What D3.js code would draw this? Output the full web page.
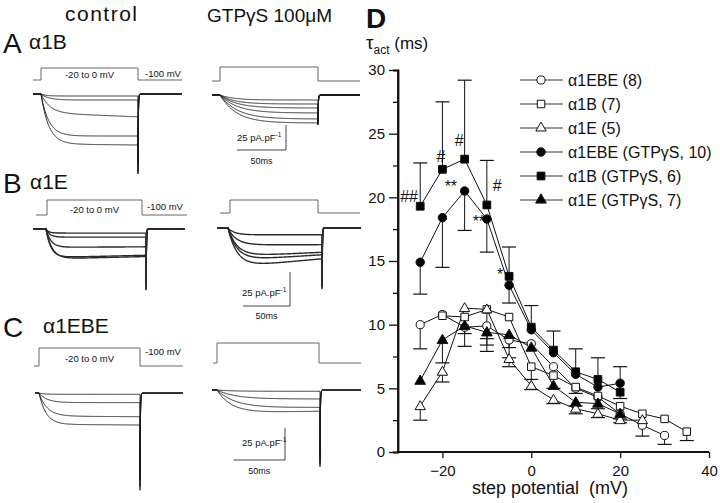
<!DOCTYPE html>
<html><head><meta charset="utf-8">
<script src="https://cdn.jsdelivr.net/npm/d3@7"></script>
<style>
body{margin:0;background:#fff}
svg{display:block}
text{font-family:"Liberation Sans",Arial,Helvetica,sans-serif;fill:#111}
</style>
</head><body>
<svg id="c" width="720" height="503"></svg>
<script>
// ================= Panel D data =================
const voltages = [-25,-20,-15,-10,-5,0,5,10,15,20,25,30,35];
// open symbols (control)
const tauEBE   = [10.0,10.8,9.8,9.9,8.8,8.5,6.7,5.0,4.3,3.0,2.1,1.3,null];
const errEBE   = [8.1,null,8.3,8.4,7.4,null,null,null,null,null,1.25,0.6,null];
const tauB     = [null,10.7,10.6,11.2,10.6,6.7,6.0,5.1,4.4,3.6,3.0,2.6,1.6];
const errB     = [null,null,null,null,null,5.7,null,4.6,null,null,null,null,0.9];
const tauE     = [3.6,6.3,11.3,11.2,7.3,5.2,4.1,3.4,3.0,2.5,2.5,null,null];
const errE     = [2.5,5.5,null,7.9,6.7,4.9,3.8,3.0,2.7,2.3,null,null,null];
// filled symbols (GTPgS)
const tauEBEg  = [14.9,18.4,20.5,18.3,13.1,9.6,7.8,6.1,5.1,5.4,null,null,null];
const errEBEg  = [12.4,14.5,17.4,15.7,11.7,null,null,null,null,6.7,null,null,null];
const tauBg    = [19.3,22.2,23.0,19.4,13.8,9.8,8.0,6.3,5.7,4.7,null,null,null];
const errBg    = [22.7,27.5,29.2,22.9,16.1,11.5,9.5,8.1,7.4,4.2,null,null,null];
const tauEg    = [5.6,8.8,9.9,9.4,9.2,8.2,5.2,3.9,3.8,3.0,null,null,null];
const errEg    = [null,7.0,9.3,8.9,8.2,null,5.0,3.6,3.4,2.6,null,null,null];
const legendLabels = ["α1EBE (8)","α1B (7)","α1E (5)","α1EBE (GTPγS, 10)","α1B (GTPγS, 6)","α1E (GTPγS, 7)"];
const yTicks = [0,5,10,15,20,25,30];
const yMinorTicks = [2.5,7.5,12.5,17.5,22.5,27.5];
const xTicks = [-20,0,20,40];
// significance marks
const sigVolt = [-25,-20,-15,-10,-15,-15,-5];
const sigTau  = [19.6,22.8,24.0,20.5,20.4,17.7,13.5];
const sigText = ["##","#","#","#","**","**","*"];
const sigDx   = [-20,-6,-10,6,-20,8,-12];

// ================= Trace data (pA/pF, ms) =================
const ampA_ctrl = [2,6,19,42,50];      const tauA_ctrl = [5,8,9,8,8];   const inA_ctrl = [0,0,-0.2,0,-0.02];
const ampA_gtp  = [5,9,13,18,24,28];   const tauA_gtp  = [14,15,17,18,18,17]; const inA_gtp = [0,0,0,0,0,0];
const ampB_ctrl = [3,6,13.5,21,22];    const tauB_ctrl = [3,4,5,5,6];   const inB_ctrl = [0,0,0.03,0.08,0.08];
const ampB_gtp  = [5,12.5,21,24,29];   const tauB_gtp  = [7,9,10,10,10]; const inB_gtp = [0,0.02,0.15,0.18,0.22];
const ampC_ctrl = [1,7.5,18,24.5];     const tauC_ctrl = [5,8,8,7];     const inC_ctrl = [0,0,-0.03,-0.02];
const ampC_gtp  = [1,7,14,18];         const tauC_gtp  = [15,18,18,14]; const inC_gtp = [0,0,0.03,0.08];
const tailPeaks = [80,30,45,45,76,60];
const stepLabel = "-20 to 0 mV", holdLabel = "-100 mV";

const svg = d3.select("#c");

// ================= Titles =================
svg.append("text").attr("x",65).attr("y",21).attr("font-size",21).attr("textLength",72).text("control");
svg.append("text").attr("x",207).attr("y",22).attr("font-size",19).text("GTPγS 100μM");
const letters = [["A","α1B",53,29],["B","α1E",193,30],["C","α1EBE",337,43]];
letters.forEach(([L,s,y,sx])=>{
  svg.append("text").attr("x",3).attr("y",y).attr("font-size",28).text(L);
  svg.append("text").attr("x",sx).attr("y",y-4).attr("font-size",21).text(s);
});

// ================= Traces =================
const panels = [
 {amp:ampA_ctrl,tau:tauA_ctrl,inact:inA_ctrl,tail:tailPeaks[0],base:94, x0:33, on:41, off:138,x1:182,k:1.0,
  prot:{b:80,h:68,x0:33,on:41,off:138,x1:182,labels:true,ly:78,hx:145,hy:77}},
 {amp:ampA_gtp, tau:tauA_gtp, inact:inA_gtp, tail:tailPeaks[1],base:95, x0:212,on:220,off:318,x1:360,k:1.0,
  prot:{b:81,h:67,x0:212,on:220,off:318,x1:360}, bar:{x:286,y:150,lx:237,ly:141,my:164}},
 {amp:ampB_ctrl,tau:tauB_ctrl,inact:inB_ctrl,tail:tailPeaks[2],base:229,x0:33, on:46, off:146,x1:185,k:1.36,noisy:true,
  prot:{b:215,h:200,x0:36,on:47,off:142,x1:187,labels:true,ly:213,hx:147,hy:210}},
 {amp:ampB_gtp, tau:tauB_gtp, inact:inB_gtp, tail:tailPeaks[3],base:228,x0:217,on:228,off:322,x1:361,k:1.36,noisy:true,
  prot:{b:213,h:200,x0:220,on:230,off:318,x1:360}, bar:{x:290,y:306,lx:242,ly:296,my:319}},
 {amp:ampC_ctrl,tau:tauC_ctrl,inact:inC_ctrl,tail:tailPeaks[4],base:393,x0:35, on:39, off:140,x1:183,k:1.28,
  prot:{b:366,h:348,x0:34,on:39,off:140,x1:183,labels:true,ly:362,hx:145,hy:355}},
 {amp:ampC_gtp, tau:tauC_gtp, inact:inC_gtp, tail:tailPeaks[5],base:390,x0:212,on:217,off:320,x1:361,k:1.28,
  prot:{b:363,h:343,x0:213,on:217,off:319,x1:361}, bar:{x:285,y:460,lx:242,ly:446,my:474}}
];

panels.forEach(p=>{
  const pr = p.prot;
  const vS = d3.scaleLinear().domain([-100,-10]).range([pr.b,pr.h]);
  const tP = d3.scaleLinear().domain([0,100]).range([pr.on,pr.off]);
  const protData = [[tP.invert(pr.x0),-100],[0,-100],[0,-10],[100,-10],[100,-100],[tP.invert(pr.x1),-100]];
  svg.append("path").attr("d",d3.line().x(d=>tP(d[0])).y(d=>vS(d[1]))(protData))
     .attr("fill","none").attr("stroke","#666").attr("stroke-width",1);
  if(pr.labels){
    svg.append("text").attr("x",(pr.on+pr.off)/2).attr("y",pr.ly).attr("font-size",9.5).attr("text-anchor","middle").text(stepLabel);
    svg.append("text").attr("x",pr.hx).attr("y",pr.hy).attr("font-size",9.5).text(holdLabel);
  }
  const tS = d3.scaleLinear().domain([0,100]).range([p.on,p.off]);
  const yS = d3.scaleLinear().domain([0,-100]).range([p.base,p.base+100*p.k]);
  const tStart = tS.invert(p.x0), tEnd = tS.invert(p.x1);
  const maxA = d3.max(p.amp);
  const line = d3.line().x(d=>tS(d[0])).y(d=>yS(d[1]));
  p.amp.forEach((A,i)=>{
    const pts = [[tStart,0],[0,0]];
    for(let t=0.5;t<=100;t+=0.5){
      pts.push([t,-A*(1-Math.exp(-t/p.tau[i]))*(1-p.inact[i]*t/100)]);
    }
    const tp = p.tail*(0.85+0.15*A/maxA);
    pts.push([100,-tp]);
    for(let t=100.1;t<=tEnd;t+=0.1){
      pts.push([t,-tp*Math.exp(-(t-100)/0.35)]);
    }
    svg.append("path").attr("d",line(pts)).attr("fill","none")
      .attr("stroke",p.noisy?"#2a2a2a":"#1a1a1a").attr("stroke-width",p.noisy?1.4:0.9);
  });
  if(p.bar){
    const b = p.bar;
    const len = yS(-25)-yS(0);
    const w = tS(50)-tS(0);
    svg.append("path").attr("d",`M${b.x},${b.y-len}V${b.y}H${b.x-w}`).attr("fill","none").attr("stroke","#444").attr("stroke-width",1);
    const t = svg.append("text").attr("x",b.lx).attr("y",b.ly).attr("font-size",9.5).text("25 pA.pF");
    t.append("tspan").attr("font-size",6.5).attr("dy",-4).text("-1");
    svg.append("text").attr("x",b.x-w/2).attr("y",b.my).attr("font-size",9).attr("text-anchor","middle").text("50ms");
  }
});

// ================= Panel D =================
const x = d3.scaleLinear().domain([-30,40]).range([398,709]);
const y = d3.scaleLinear().domain([0,30]).range([452,70]);
const gD = svg.append("g");

svg.append("text").attr("x",366).attr("y",28).attr("font-size",28).attr("font-weight","bold").text("D");
const yl = svg.append("text").attr("x",366).attr("y",49).attr("font-size",19);
yl.append("tspan").text("τ");
yl.append("tspan").attr("font-size",12).attr("dy",5).text("act");
yl.append("tspan").attr("font-size",17).attr("dy",-5).text(" (ms)");

const yAxis = d3.axisLeft(y).tickValues(yTicks).tickSize(9).tickPadding(4).tickFormat(d3.format("d"));
const gy = gD.append("g").attr("transform","translate(398,0)").call(yAxis);
gy.selectAll(".tick text").attr("font-size",15).attr("font-family","Liberation Sans, Arial, sans-serif").attr("fill","#111");
gD.append("g").attr("transform","translate(398,0)").call(d3.axisLeft(y).tickValues(yMinorTicks).tickSize(5).tickFormat(""));
const xAxis = d3.axisBottom(x).tickValues(xTicks).tickSize(6).tickPadding(7).tickFormat(d3.format("d"));
const gx = gD.append("g").attr("transform","translate(0,452)").call(xAxis);
gx.selectAll(".tick text").attr("font-size",15).attr("font-family","Liberation Sans, Arial, sans-serif").attr("fill","#111");
gD.selectAll(".domain").attr("stroke","#111").attr("stroke-width",1.8);
gD.selectAll(".tick line").attr("stroke","#111").attr("stroke-width",1.3);
gy.select(".domain").attr("d",`M0,${y(30)}V${y(0)}`);
gx.select(".domain").attr("d",`M${x(-30)},0H${x(40)}`);

svg.append("text").attr("x",472).attr("y",494).attr("font-size",18).text("step potential\u00a0\u00a0(mV)");

const series = [
  {v:tauEBE,  e:errEBE,  sym:d3.symbolCircle,   fill:"#fff", size:52},
  {v:tauB,    e:errB,    sym:d3.symbolSquare,   fill:"#fff", size:56},
  {v:tauE,    e:errE,    sym:d3.symbolTriangle, fill:"#fff", size:46},
  {v:tauEBEg, e:errEBEg, sym:d3.symbolCircle,   fill:"#000", size:56},
  {v:tauBg,   e:errBg,   sym:d3.symbolSquare,   fill:"#000", size:60},
  {v:tauEg,   e:errEg,   sym:d3.symbolTriangle, fill:"#000", size:50}
];
const ln = d3.line().defined(d=>d.t!=null).x(d=>x(d.v)).y(d=>y(d.t));
series.forEach(s=>{
  const data = voltages.map((v,i)=>({v,t:s.v[i]}));
  gD.append("path").attr("d",ln(data)).attr("fill","none").attr("stroke","#111").attr("stroke-width",1);
});
series.forEach(s=>{
  voltages.forEach((v,i)=>{
    if(s.v[i]==null||s.e[i]==null) return;
    gD.append("line").attr("x1",x(v)).attr("x2",x(v)).attr("y1",y(s.v[i])).attr("y2",y(s.e[i])).attr("stroke","#111").attr("stroke-width",1);
    gD.append("line").attr("x1",x(v)-7).attr("x2",x(v)+7).attr("y1",y(s.e[i])).attr("y2",y(s.e[i])).attr("stroke","#111").attr("stroke-width",1.2);
  });
});
series.forEach(s=>{
  voltages.forEach((v,i)=>{
    if(s.v[i]==null) return;
    gD.append("path").attr("d",d3.symbol().type(s.sym).size(s.size)())
      .attr("transform",`translate(${x(v)},${y(s.v[i])+(s.sym===d3.symbolTriangle?0.5:0)})`)
      .attr("fill",s.fill).attr("stroke","#111").attr("stroke-width",1);
  });
});
sigText.forEach((t,i)=>{
  gD.append("text").attr("x",x(sigVolt[i])+sigDx[i]).attr("y",y(sigTau[i])).attr("font-size",t.includes("*")?16:16)
    .attr("text-anchor","start").text(t);
});

const legY = d3.scalePoint().domain(d3.range(legendLabels.length)).range([80,200]);
legendLabels.forEach((lab,i)=>{
  const yy = legY(i);
  gD.append("line").attr("x1",520).attr("x2",563).attr("y1",yy).attr("y2",yy).attr("stroke","#333").attr("stroke-width",1);
  const s = series[i];
  gD.append("path").attr("d",d3.symbol().type(s.sym).size(s.size)()).attr("transform",`translate(541,${yy})`)
    .attr("fill",s.fill).attr("stroke","#111").attr("stroke-width",1);
  gD.append("text").attr("x",568).attr("y",yy+5.5).attr("font-size",16).text(lab);
});
</script>
</body></html>
